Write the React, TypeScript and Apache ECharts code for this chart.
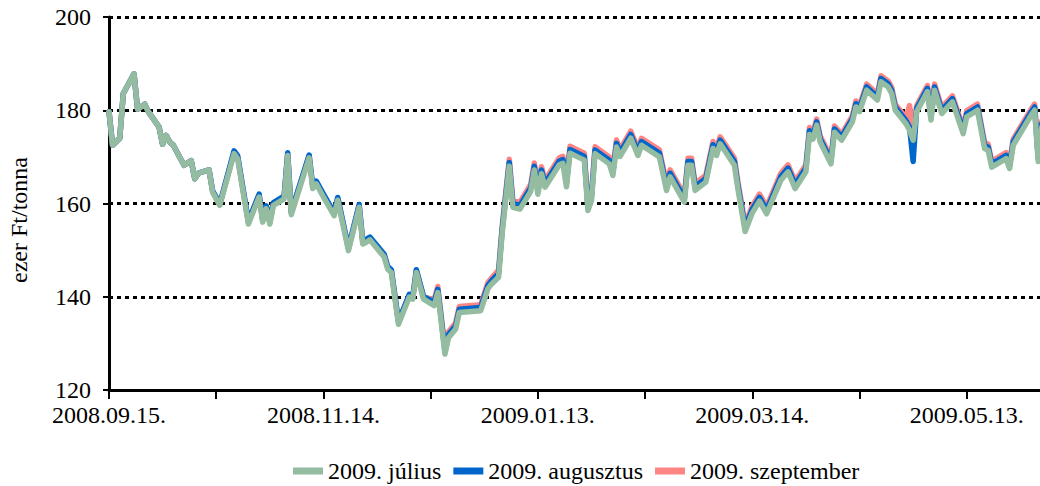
import React, { useEffect, useRef } from "react";
import * as echarts from "echarts";

const startDate = "2008-09-15";

const dates = [
  "2008-09-15", "2008-09-16", "2008-09-18", "2008-09-19", "2008-09-22", "2008-09-23", "2008-09-25", "2008-09-26",
  "2008-09-29", "2008-09-30", "2008-10-01", "2008-10-02", "2008-10-03", "2008-10-06", "2008-10-08", "2008-10-09",
  "2008-10-10", "2008-10-13", "2008-10-14", "2008-10-16", "2008-10-20", "2008-10-21", "2008-10-24", "2008-10-27",
  "2008-10-28", "2008-10-29", "2008-10-30", "2008-10-31", "2008-11-03", "2008-11-04", "2008-11-05", "2008-11-10",
  "2008-11-11", "2008-11-12", "2008-11-14", "2008-11-17", "2008-11-18", "2008-11-21", "2008-11-24", "2008-11-25",
  "2008-11-26", "2008-11-27", "2008-12-01", "2008-12-02", "2008-12-03", "2008-12-05", "2008-12-08", "2008-12-09",
  "2008-12-10", "2008-12-12", "2008-12-15", "2008-12-16", "2008-12-18", "2008-12-19", "2008-12-21", "2008-12-22",
  "2008-12-28", "2008-12-30", "2008-12-31", "2009-01-02", "2009-01-03", "2009-01-05", "2009-01-06", "2009-01-08",
  "2009-01-11", "2009-01-12", "2009-01-13", "2009-01-14", "2009-01-15", "2009-01-19", "2009-01-20", "2009-01-21",
  "2009-01-22", "2009-01-26", "2009-01-27", "2009-01-28", "2009-01-29", "2009-02-02", "2009-02-03", "2009-02-04",
  "2009-02-05", "2009-02-08", "2009-02-10", "2009-02-11", "2009-02-16", "2009-02-18", "2009-02-19", "2009-02-23",
  "2009-02-24", "2009-02-25", "2009-02-26", "2009-03-01", "2009-03-03", "2009-03-04", "2009-03-05", "2009-03-09",
  "2009-03-10", "2009-03-12", "2009-03-14", "2009-03-16", "2009-03-18", "2009-03-22", "2009-03-24", "2009-03-26",
  "2009-03-29", "2009-03-30", "2009-03-31", "2009-04-01", "2009-04-02", "2009-04-05", "2009-04-06", "2009-04-08",
  "2009-04-11", "2009-04-12", "2009-04-13", "2009-04-15", "2009-04-18", "2009-04-19", "2009-04-21", "2009-04-22",
  "2009-04-23", "2009-04-26", "2009-04-27", "2009-04-28", "2009-04-29", "2009-05-02", "2009-05-03", "2009-05-04",
  "2009-05-06", "2009-05-09", "2009-05-12", "2009-05-13", "2009-05-16", "2009-05-18", "2009-05-19", "2009-05-20",
  "2009-05-24", "2009-05-25", "2009-05-26", "2009-05-31", "2009-06-01", "2009-06-02", "2009-06-03",
];

const julius = [
  179.7, 172.5, 174.0, 183.6, 187.8, 180.2, 181.3, 179.7,
  176.4, 172.7, 174.6, 173.2, 172.5, 168.2, 169.2, 165.3,
  166.5, 167.2, 162.4, 159.6, 170.7, 169.6, 155.6, 161.4,
  156.0, 158.9, 155.6, 159.6, 161.0, 170.3, 157.6, 169.8,
  163.2, 164.2, 161.4, 157.4, 160.7, 149.9, 159.2, 151.3,
  151.7, 152.2, 148.5, 145.9, 145.2, 134.1, 139.9, 139.5,
  145.2, 139.5, 138.1, 140.9, 127.7, 131.2, 133.1, 136.6,
  137.0, 141.7, 142.7, 144.2, 153.5, 168.0, 159.2, 158.8,
  162.6, 167.2, 162.0, 166.4, 163.5, 168.3, 168.6, 163.6,
  170.8, 169.3, 158.5, 160.7, 170.7, 168.5, 166.0, 172.1,
  170.1, 174.0, 170.3, 172.5, 170.0, 162.8, 165.7, 160.3,
  168.2, 168.2, 162.8, 164.6, 171.8, 170.3, 172.8, 168.2,
  163.0, 154.0, 158.0, 160.5, 157.8, 165.0, 166.8, 163.2,
  166.8, 174.8, 173.8, 176.8, 173.2, 168.5, 175.3, 173.6,
  177.5, 180.7, 179.7, 184.3, 182.2, 186.1, 185.0, 183.6,
  180.0, 177.1, 175.7, 173.6, 179.7, 184.0, 177.9, 184.3,
  179.3, 181.8, 175.0, 178.6, 180.0, 171.8, 171.4, 167.8,
  169.6, 167.5, 172.5, 178.9, 180.0, 169.0, 176.4,
];

const augusztus = [
  179.7, 172.5, 174.0, 183.6, 187.8, 180.2, 181.3, 179.7,
  176.4, 172.7, 174.6, 173.2, 172.5, 168.2, 169.2, 165.3,
  166.5, 167.2, 162.7, 159.9, 171.3, 170.2, 156.2, 162.0,
  156.6, 159.5, 156.2, 160.2, 161.6, 170.9, 158.2, 170.4,
  163.8, 164.8, 162.0, 158.0, 161.3, 150.5, 159.8, 151.9,
  152.3, 152.8, 149.1, 146.5, 145.8, 134.7, 140.5, 140.1,
  145.8, 140.1, 138.8, 141.6, 128.4, 131.9, 133.8, 137.3,
  137.7, 142.4, 143.4, 145.0, 154.3, 168.8, 160.0, 159.6,
  163.4, 168.0, 162.8, 167.2, 164.3, 169.1, 169.4, 164.4,
  171.6, 170.1, 159.3, 161.5, 171.5, 169.3, 166.8, 172.9,
  170.9, 174.8, 171.1, 173.3, 170.8, 163.6, 166.5, 161.1,
  169.0, 169.0, 163.6, 165.4, 172.6, 171.1, 173.6, 169.0,
  163.8, 154.8, 158.8, 161.3, 158.6, 165.8, 167.6, 164.0,
  167.6, 175.6, 174.6, 177.5, 173.9, 169.2, 176.0, 174.3,
  178.2, 181.4, 180.4, 185.0, 182.9, 186.8, 185.7, 184.3,
  180.7, 177.8, 176.4, 169.0, 180.4, 184.7, 178.6, 185.0,
  180.0, 182.5, 175.7, 179.3, 180.7, 172.5, 172.1, 168.5,
  170.3, 168.2, 173.2, 179.6, 180.7, 169.7, 177.1,
];

const szeptember = [
  179.7, 172.5, 174.0, 183.6, 187.8, 180.2, 181.3, 179.7,
  176.4, 172.7, 174.6, 173.2, 172.5, 168.2, 169.2, 165.3,
  166.5, 167.2, 162.6, 159.8, 171.1, 170.0, 156.0, 161.8,
  156.4, 159.3, 156.0, 160.0, 161.4, 170.7, 158.0, 170.2,
  163.6, 164.6, 161.8, 157.8, 161.1, 150.3, 159.6, 151.7,
  152.1, 152.6, 148.9, 146.3, 145.6, 134.5, 140.3, 139.9,
  145.6, 139.9, 139.4, 142.2, 129.0, 132.5, 134.4, 137.9,
  138.3, 143.0, 144.0, 145.7, 155.0, 169.5, 160.7, 160.3,
  164.1, 168.7, 163.5, 167.9, 165.0, 169.8, 170.1, 165.1,
  172.3, 170.8, 160.0, 162.2, 172.2, 170.0, 167.5, 173.6,
  171.6, 175.5, 171.8, 174.0, 171.5, 164.3, 167.2, 161.8,
  169.7, 169.7, 164.3, 166.1, 173.3, 171.8, 174.3, 169.7,
  164.5, 155.5, 159.5, 162.0, 159.3, 166.5, 168.3, 164.7,
  168.3, 176.3, 175.3, 178.1, 174.5, 169.8, 176.6, 174.9,
  178.8, 182.0, 181.0, 185.6, 183.5, 187.4, 186.3, 184.9,
  181.3, 178.4, 181.0, 174.5, 181.0, 185.3, 179.2, 185.6,
  180.6, 183.1, 176.3, 179.9, 181.3, 173.1, 172.7, 169.1,
  170.9, 168.8, 173.8, 180.2, 181.3, 170.3, 177.7,
];

const seriesNames = ["2009. július", "2009. augusztus", "2009. szeptember"];
const seriesColors = ["#93bca0", "#0066cc", "#ff8585"];
const yAxisTitle = "ezer Ft/tonna";
const yTicks = [120, 140, 160, 180, 200];
const xTickDays = [0, 30, 60, 90, 120, 150, 180, 210, 240];
const xLabelDays = [0, 60, 120, 180, 240];

const DAY = 86400000;
const t0 = Date.parse(startDate);
const dayOf = (d: string) => Math.round((Date.parse(d) - t0) / DAY);
const fmtDay = (v: number) => {
  const dt = new Date(t0 + Math.round(v) * DAY);
  const mm = String(dt.getUTCMonth() + 1).padStart(2, "0");
  const dd = String(dt.getUTCDate()).padStart(2, "0");
  return `${dt.getUTCFullYear()}.${mm}.${dd}.`;
};

const FONT = "Liberation Serif";
const FS = 24;

export default function App() {
  const ref = useRef<HTMLDivElement>(null);
  useEffect(() => {
    if (!ref.current) return;
    const chart = echarts.init(ref.current, undefined, { renderer: "svg" });
    const allData = [julius, augusztus, szeptember];
    const zs = [4, 3, 2];
    chart.setOption({
      animation: false,
      grid: { left: 109, right: 0, top: 17, bottom: 96, containLabel: false },
      graphic: [
        {
          type: "text",
          x: 19,
          y: 220,
          rotation: Math.PI / 2,
          style: {
            text: yAxisTitle,
            fontFamily: FONT,
            fontSize: FS,
            fill: "#000",
            textAlign: "center",
            textVerticalAlign: "middle",
          },
        },
      ],
      legend: {
        data: seriesNames,
        left: 288,
        top: 454,
        icon: "rect",
        itemWidth: 30,
        itemHeight: 7,
        itemGap: 12,
        textStyle: { fontFamily: FONT, fontSize: FS, color: "#000" },
      },
      xAxis: {
        type: "value",
        min: 0,
        max: 260.5,
        axisLine: { onZero: false, lineStyle: { color: "#000", width: 3 } },
        axisTick: { show: true, length: 9, customValues: xTickDays, lineStyle: { color: "#000", width: 2 } },
        axisLabel: {
          customValues: xLabelDays,
          formatter: (v: number) => fmtDay(v),
          fontFamily: FONT,
          fontSize: FS,
          color: "#000",
          margin: 13,
        },
        splitLine: { show: false },
      },
      yAxis: {
        type: "value",
        min: 120,
        max: 200,
        interval: 20,
        axisLine: { show: true, lineStyle: { color: "#000", width: 3 } },
        axisTick: { show: true, length: 6, lineStyle: { color: "#000", width: 2 } },
        axisLabel: {
          fontFamily: FONT,
          fontSize: FS,
          color: "#000",
          margin: 18,
          customValues: yTicks,
        },
        splitLine: { show: true, lineStyle: { color: "#000", width: 3, type: [4, 4] } },
      },
      series: seriesNames.map((name, i) => ({
        name,
        type: "line",
        z: zs[i],
        symbol: "none",
        smooth: false,
        data: dates.map((d, k) => [dayOf(d), allData[i][k]]),
        lineStyle: { color: seriesColors[i], width: 5.5, join: "round", cap: "round" },
        itemStyle: { color: seriesColors[i] },
      })),
    });
    return () => chart.dispose();
  }, []);
  return <div ref={ref} style={{ position: "absolute", left: 0, top: 0, width: 1040, height: 486 }} />;
}
